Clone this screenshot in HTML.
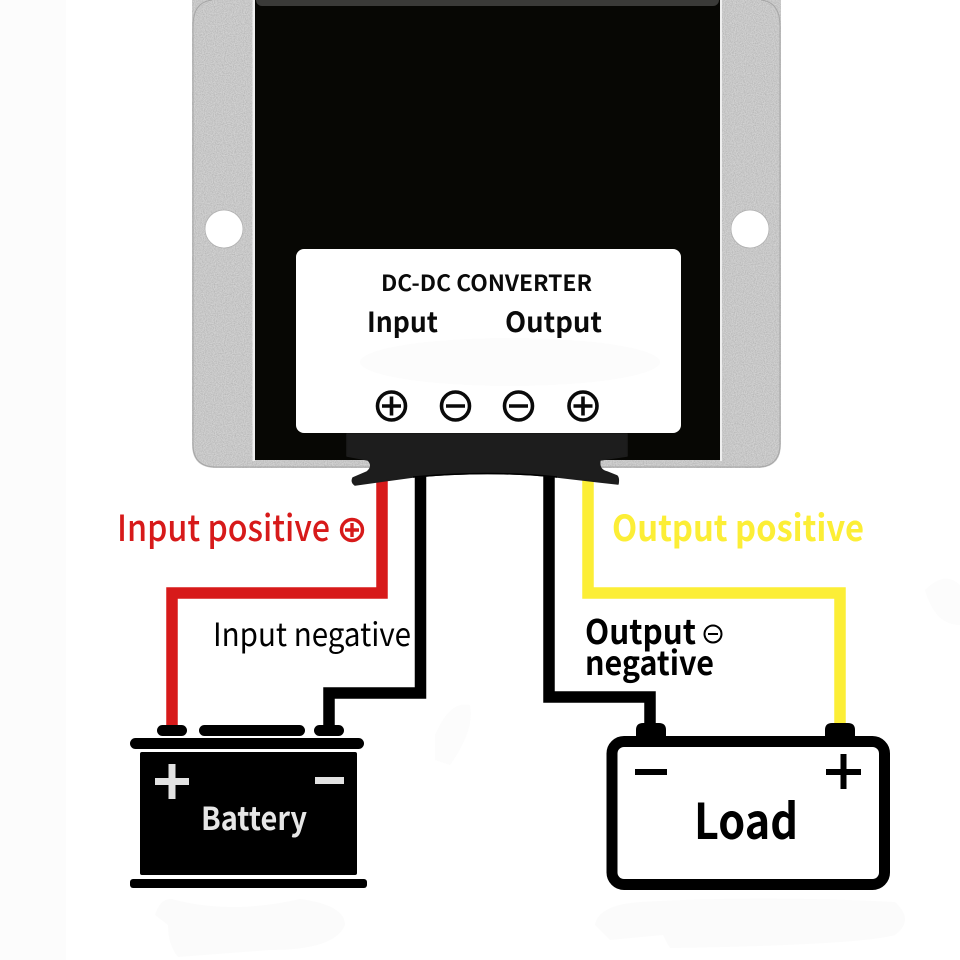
<!DOCTYPE html>
<html><head><meta charset="utf-8"><style>
html,body{margin:0;padding:0;background:#fff}
svg{display:block}
text{font-family:"Noto Sans CJK SC","DejaVu Sans","Liberation Sans",sans-serif}
</style></head><body>
<svg width="960" height="960" viewBox="0 0 960 960" xmlns="http://www.w3.org/2000/svg">
<defs>
<filter id="grain" x="0" y="0" width="100%" height="100%">
<feTurbulence type="fractalNoise" baseFrequency="0.9" numOctaves="2" seed="4" result="n"/>
<feColorMatrix in="n" type="matrix" values="0 0 0 0 0  0 0 0 0 0  0 0 0 0 0  0 0 0 0.55 -0.17" result="d"/>
<feComposite in="d" in2="SourceGraphic" operator="in" result="g"/>
<feMerge><feMergeNode in="SourceGraphic"/><feMergeNode in="g"/></feMerge>
</filter>
</defs>
<rect width="960" height="960" fill="#fff"/>
<rect width="66" height="960" fill="#fcfcfc"/>
<path d="M155 915Q160 898 172 899Q230 915 300 899Q345 905 345 925Q335 950 270 950L178 957Q168 945 168 925Z" fill="#fbfbfb"/>
<path d="M595 925Q598 905 640 902Q760 895 895 902Q915 920 895 935Q860 945 670 948Q665 940 663 935L610 940Z" fill="#fbfbfb"/>
<path d="M435 735Q450 700 470 705Q475 730 450 765L435 760Z" fill="#fcfcfc"/>
<path d="M925 590Q945 570 960 585L960 625Q935 625 925 590Z" fill="#fcfcfc"/>
<path d="M192 -20H781V444Q781 468 757 468H216Q192 468 192 444Z" fill="#d2d2d2" filter="url(#grain)"/>
<path d="M212 0Q193 2 193 26V444Q193 467 216 467H757Q780 467 780 444V26Q780 2 761 0" fill="none" stroke="#a6a6a6" stroke-width="1"/>
<rect x="252.500" y="-5" width="2.500" height="466" fill="#efefef"/>
<rect x="720" y="-5" width="2" height="466" fill="#efefef"/>
<rect x="255" y="-5" width="465" height="465" fill="#070704"/>
<rect x="256" y="-10" width="463" height="16" rx="6" fill="#3a3a38"/>
<circle cx="224" cy="229" r="19" fill="#fff" stroke="#b0b0b0" stroke-width="0.800"/>
<circle cx="750" cy="229" r="19" fill="#fff" stroke="#b0b0b0" stroke-width="0.800"/>
<rect x="296" y="249" width="385" height="184" rx="8" fill="#fff"/>
<ellipse cx="510" cy="362" rx="150" ry="24" fill="#fcfcfc"/>
<text x="381" y="291" font-size="22" font-weight="700" textLength="211" lengthAdjust="spacingAndGlyphs" fill="#0a0a0a">DC-DC CONVERTER</text>
<text x="367" y="332" font-size="28" font-weight="700" textLength="71" lengthAdjust="spacingAndGlyphs" fill="#0a0a0a">Input</text>
<text x="505" y="332" font-size="28" font-weight="700" textLength="97" lengthAdjust="spacingAndGlyphs" fill="#0a0a0a">Output</text>
<g fill="none" stroke="#0a0a0a" stroke-width="3.600">
<circle cx="391.500" cy="406" r="14"/><path d="M382 406H401M391.500 396.500V415.500"/>
<circle cx="455.500" cy="406" r="14"/><path d="M446 406H465"/>
<circle cx="518.500" cy="406" r="14"/><path d="M509 406H528"/>
<circle cx="583" cy="406" r="14"/><path d="M573.500 406H592.500M583 396.500V415.500"/>
</g>
<g fill="none" stroke-width="11.500" stroke-linejoin="miter">
<path d="M382 478V593H172V726" stroke="#d71a1a"/>
<path d="M420.500 470V693H329V726" stroke="#000"/>
<path d="M549 470V697H650V726" stroke="#000"/>
<path d="M588 478V593H840V726" stroke="#fcee36"/>
</g>
<path d="M347 434H627V456L600 460Q598 470 607 472L617 476Q619 478 618 484L600 482 557 477Q490 470 413 477L355 485Q351 482 353 478L367 472Q374 466 368 460L347 456Z" fill="#1d1d1d" stroke="#1d1d1d" stroke-width="1.500" stroke-linejoin="round"/>
<path d="M413 477Q490 470 557 477" stroke="#000" stroke-width="1.500" fill="none"/>
<g fill="#000">
<rect x="157" y="725" width="30" height="11" rx="5.500"/>
<rect x="199" y="725" width="106" height="11" rx="5.500"/>
<rect x="314" y="725" width="30" height="11" rx="5.500"/>
<rect x="130" y="738" width="234" height="11" rx="5.500"/>
<rect x="140" y="752" width="217" height="123" rx="2"/>
<rect x="130" y="879" width="237" height="9" rx="3"/>
</g>
<path d="M155 778H189V785H155ZM168.500 764H175.500V799H168.500ZM315 777H344V784H315Z" fill="#e2e2e2"/>
<text x="201" y="830" font-size="32" font-weight="700" textLength="106" lengthAdjust="spacingAndGlyphs" fill="#e6e6e6">Battery</text>
<path d="M636 737V730Q636 723 643 723H659Q666 723 666 730V737ZM825 737V730Q825 723 832 723H848Q855 723 855 730V737Z" fill="#000"/>
<rect x="612" y="741.500" width="272.500" height="143" rx="12" fill="#fff" stroke="#000" stroke-width="11"/>
<path d="M635 769H667V775H635ZM826 769H861V775H826ZM840.500 754H846.500V789H840.500Z" fill="#000"/>
<text x="694" y="839" font-size="49" font-weight="700" textLength="104" lengthAdjust="spacingAndGlyphs" fill="#000">Load</text>
<text x="117" y="541" font-size="36" font-weight="500" textLength="213" lengthAdjust="spacingAndGlyphs" fill="#d71a1a">Input positive</text>
<g fill="none" stroke="#d71a1a" stroke-width="3.400"><circle cx="352" cy="530" r="10.500"/><path d="M345 530H359M352 523V537"/></g>
<text x="213" y="646" font-size="32" font-weight="400" textLength="198" lengthAdjust="spacingAndGlyphs" fill="#000">Input negative</text>
<text x="612" y="541" font-size="36" font-weight="700" textLength="252" lengthAdjust="spacingAndGlyphs" fill="#fcee36">Output positive</text>
<text x="585" y="644" font-size="34" font-weight="700" textLength="111" lengthAdjust="spacingAndGlyphs" fill="#000">Output</text>
<text x="585" y="675" font-size="33" font-weight="700" textLength="129" lengthAdjust="spacingAndGlyphs" fill="#000">negative</text>
<g fill="none" stroke="#000" stroke-width="2"><circle cx="713" cy="634" r="8.500"/><path d="M708 634H718"/></g>
</svg>
</body></html>
